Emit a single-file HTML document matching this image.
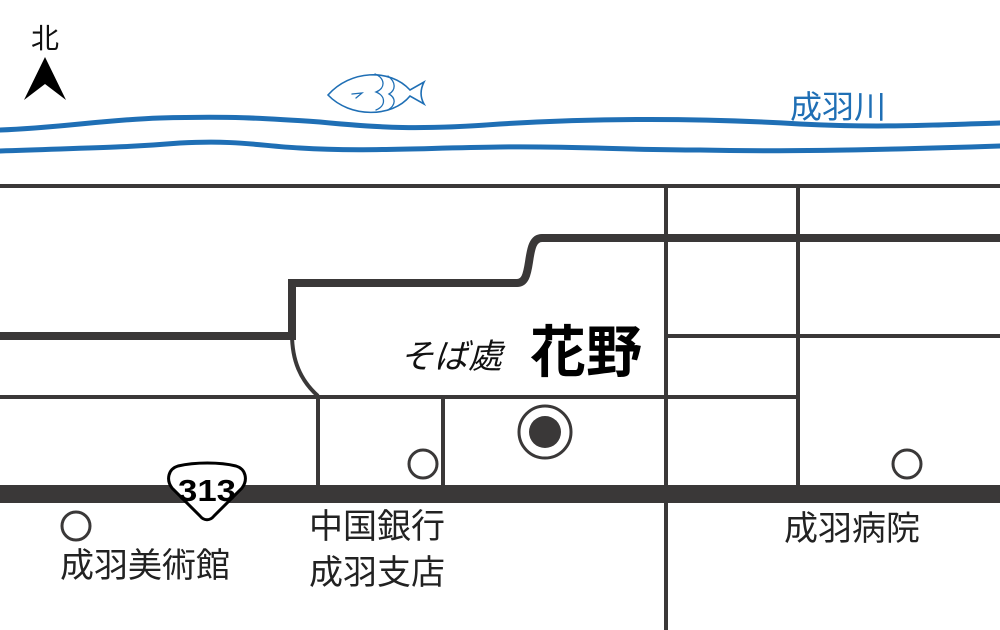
<!DOCTYPE html>
<html><head><meta charset="utf-8"><style>
html,body{margin:0;padding:0;background:#fff;}
svg{display:block}
text{font-family:"Liberation Sans","Noto Sans CJK JP",sans-serif;}
</style></head><body>
<svg width="1000" height="630" viewBox="0 0 1000 630" xmlns="http://www.w3.org/2000/svg">
<rect width="1000" height="630" fill="#fff"/>
<text x="45" y="48" font-size="28" text-anchor="middle" fill="#111">北</text>
<polygon points="45,57 24,100 45,84 66,100" fill="#000"/>
<g fill="none" stroke="#1f6fb5" stroke-linecap="round">
<path d="M0,130 C60,128 100,120 160,118 C230,116 260,118 320,122 C380,128 420,130 500,124 C600,118 700,118 800,124 C880,128 930,125 1000,123" stroke-width="5"/>
<path d="M0,151 C80,148 120,148 180,143 C240,140 260,146 300,148 C360,152 420,148 500,147 C580,146 620,150 700,150 C780,152 880,150 1000,146" stroke-width="5"/>
<path d="M328,95 C350,70 390,68 410,90 L424,82 C420,90 420,97 424,104 L410,96 C392,118 350,118 328,95 Z" stroke-width="1.6"/>
<path d="M375,74 C385,78 386,88 376,92 C386,96 386,106 376,110 M388,76 C396,82 396,90 389,94 C396,98 396,105 388,110 M352,94 L362,93 L356,98" stroke-width="1.3"/>
</g>
<text x="838" y="118" font-size="32" text-anchor="middle" fill="#1f6fb5">成羽川</text>
<g stroke="#3a3838" fill="none">
<line x1="0" y1="186" x2="1000" y2="186" stroke-width="4"/>
<line x1="666" y1="186" x2="666" y2="630" stroke-width="4"/>
<line x1="798" y1="186" x2="798" y2="487" stroke-width="4"/>
<line x1="666" y1="336" x2="1000" y2="336" stroke-width="4"/>
<path d="M0,336 L292,336 L292,283 L517,283 C525,283 527,275 529,262 C531,248 533,238 542,238 L1000,238" stroke-width="8"/>
<path d="M292,334 C292,360 300,380 318,396" stroke-width="4"/>
<line x1="0" y1="397" x2="800" y2="397" stroke-width="4"/>
<line x1="318" y1="397" x2="318" y2="487" stroke-width="4"/>
<line x1="443" y1="397" x2="443" y2="487" stroke-width="4"/>
<line x1="0" y1="494" x2="1000" y2="494" stroke-width="18"/>
<circle cx="423" cy="464" r="14" stroke-width="3" fill="#fff"/>
<circle cx="907" cy="464" r="14" stroke-width="3" fill="#fff"/>
<circle cx="76" cy="526" r="14" stroke-width="3" fill="#fff"/>
<circle cx="545" cy="432" r="26" stroke-width="3" fill="#fff"/>
<circle cx="545" cy="432" r="16" fill="#3a3838" stroke="none"/>
</g>
<path d="M178,466 C195,462 220,462 236,466 C246,469 248,480 242,488 L214,516 C210,521 204,521 200,516 L172,488 C166,480 168,469 178,466 Z" fill="#fff" stroke="#000" stroke-width="3"/>
<text x="207" y="501" font-size="31" font-weight="bold" text-anchor="middle" fill="#000" textLength="58" lengthAdjust="spacingAndGlyphs">313</text>
<text x="400" y="368" font-size="34" font-family="'Noto Serif CJK SC',serif" fill="#111" font-style="italic">そば處</text>
<text x="530" y="372" font-size="56" font-family="'Noto Serif CJK SC',serif" font-weight="bold" fill="#000">花野</text>
<g font-size="34" fill="#222">
<text x="60" y="577">成羽美術館</text>
<text x="309" y="538">中国銀行</text>
<text x="309" y="584">成羽支店</text>
<text x="784" y="540">成羽病院</text>
</g>
</svg>
</body></html>
